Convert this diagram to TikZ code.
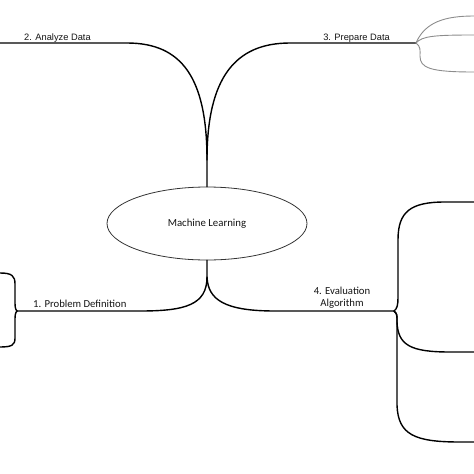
\documentclass[tikz,border=0pt]{standalone}
\usepackage{fontspec}
\usepackage{tikz}
\usetikzlibrary{shapes.geometric}
\newfontfamily\arialfont{Liberation Sans}
\newfontfamily\calfont{Carlito}
\definecolor{linegray}{HTML}{8C8C8C}
\definecolor{textgray}{HTML}{141414}
\tikzset{
	branch_b/.style = {draw=black, line width=1.4pt},
	branch_g/.style = {draw=linegray, line width=0.9pt},
	centre_n/.style = {ellipse, draw=black!80, line width=0.8pt,
		minimum width=200pt, minimum height=73pt, inner sep=0pt,
		font=\calfont\fontsize{10.8}{13}\selectfont, text=textgray},
	lbl_a/.style = {inner sep=0pt, text=textgray,
		font=\arialfont\fontsize{9.3}{11}\selectfont},
	lbl_c/.style = {inner sep=0pt, text=textgray, align=center,
		font=\calfont\fontsize{10.7}{12}\selectfont}
}
\begin{document}
\begin{tikzpicture}[x=1pt,y=-1pt,line cap=round,line join=round]
\useasboundingbox (0,0) rectangle (474,474);
\node [centre_n] (ml) at (207,223.5) {Machine Learning};
% joins and branch ends
\coordinate (topjoin) at (207,160);
\coordinate (botjoin) at (207,277);
\coordinate (analyze) at (0,43);
\coordinate (prepare) at (416,43);
\coordinate (problem) at (17,311);
\coordinate (evaluation) at (394,311);
% main branches
\draw [branch_b] (ml.north) -- (topjoin) .. controls (207,78) and (182,43) .. (127,43) -- (analyze);
\draw [branch_b] (topjoin) .. controls (207,78) and (235,43) .. (290,43) -- (prepare);
\draw [branch_b] (ml.south) -- (botjoin) .. controls (207,305) and (185,311) .. (140,311) -- (problem);
\draw [branch_b] (botjoin) .. controls (208,300) and (225,311) .. (275,311) -- (evaluation);
% prepare data
\draw [branch_g] (prepare) .. controls (425,22) and (445,16) .. (474,16);
\draw [branch_g] (prepare) .. controls (422,36) and (435,35) .. (474,35);
\draw [branch_g] (prepare) .. controls (421,47) and (420,50) .. (420,56)
	.. controls (420,68) and (430,72) .. (474,72);
% problem definition
\draw [branch_b] (problem) .. controls (15,309) and (15,306) .. (15,300) -- (15,284)
	.. controls (15,276) and (12,273) .. (0,273);
\draw [branch_b] (problem) .. controls (15,313) and (15,316) .. (15,322) -- (15,338)
	.. controls (15,345) and (12,347) .. (0,347);
% evaluation algorithm
\draw [branch_b] (evaluation) .. controls (397,309) and (398,305) .. (398,298) -- (398,240)
	.. controls (398,212) and (410,202) .. (445,202) -- (474,202);
\draw [branch_b] (evaluation) .. controls (397,314) .. (397,322)
	.. controls (398,345) and (410,352) .. (450,352) -- (474,352);
\draw [branch_b] (evaluation) .. controls (397,314) .. (397,322) -- (397,405)
	.. controls (398,435) and (415,442) .. (460,442) -- (474,442);
% labels
\node [lbl_a, anchor=base west] (analyze_l) at (24,40) {2. Analyze Data};
\node [lbl_a, anchor=base east] (prepare_l) at (390,40) {3. Prepare Data};
\node [lbl_c, anchor=base west] (problem_l) at (33,307) {1. Problem Definition};
\node [lbl_c, anchor=south] (evaluation_l) at (342,309) {4. Evaluation\\Algorithm};
\end{tikzpicture}
\end{document}
